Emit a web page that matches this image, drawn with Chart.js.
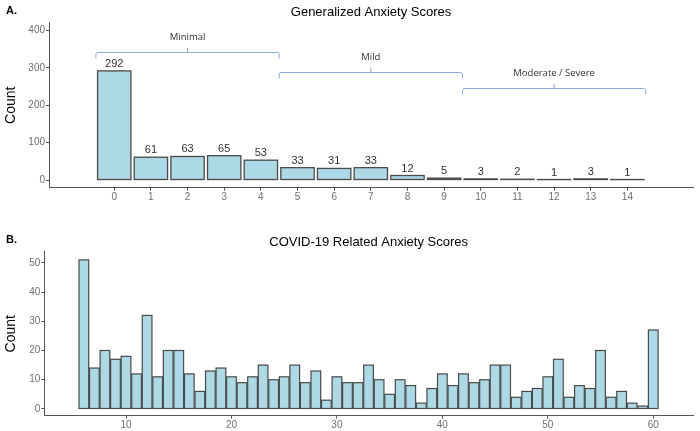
<!DOCTYPE html>
<html>
<head>
<meta charset="utf-8">
<script src="https://cdn.jsdelivr.net/npm/chart.js@4.4.0/dist/chart.umd.min.js"></script>
<style>
body{margin:0;background:#fff;width:700px;height:431px;overflow:hidden;position:relative}
canvas{position:absolute;left:0}
#gad{top:0}
#covid{top:215px}
</style>
</head>
<body>
<canvas id="gad" width="700" height="215"></canvas>
<canvas id="covid" width="700" height="216"></canvas>
<script>
// panel A - GAD-7 scores
var gadScores = [0,1,2,3,4,5,6,7,8,9,10,11,12,13,14];
var gadCounts = [292,61,63,65,53,33,31,33,12,5,3,2,1,3,1];
var gadYTicks = [0,100,200,300,400];

// severity brackets (score ranges and height in count units)
var severityLabels = ["Minimal","Mild","Moderate / Severe"];
var severityFrom = [-0.5,4.5,9.5];
var severityTo = [4.5,9.5,14.5];
var severityLevel = [342,290,247];

// panel B - COVID-19 related anxiety scores
var covidScores = [6,7,8,9,10,11,12,13,14,15,16,17,18,19,20,21,22,23,24,25,26,27,28,29,30,31,32,33,34,35,36,37,38,39,40,41,42,43,44,45,46,47,48,49,50,51,52,53,54,55,56,57,58,59,60];
var covidCounts = [51,14,20,17,18,12,32,11,20,20,12,6,13,14,11,9,11,15,10,11,15,9,13,3,11,9,9,15,10,5,10,8,2,7,12,8,12,9,10,15,15,4,6,7,11,17,4,8,7,20,4,6,2,1,27];
var covidXTicks = [10,20,30,40,50,60];
var covidYTicks = [0,10,20,30,40,50];

Chart.defaults.font.family = "'Liberation Sans', Arial, sans-serif";
Chart.defaults.animation = false;

var axisColor = '#555555';
var tickColor = '#707070';

function panelLetter(letter, y) {
  return {
    id: 'panelLetter',
    afterDraw: function(chart) {
      var ctx = chart.ctx;
      ctx.save();
      ctx.font = "bold 11px 'Liberation Sans', Arial, sans-serif";
      ctx.fillStyle = '#000';
      ctx.textBaseline = 'middle';
      ctx.fillText(letter, 6, y);
      ctx.restore();
    }
  };
}

// ggplot-style outline: stroke centred on the bar edge, so tiny bars still show a line
function barOutline(lw) {
  return {
    id: 'barOutline',
    afterDatasetsDraw: function(chart) {
      var ctx = chart.ctx;
      var meta = chart.getDatasetMeta(0);
      ctx.save();
      ctx.strokeStyle = '#4a4a4a';
      ctx.lineWidth = lw;
      meta.data.forEach(function(bar) {
        var p = bar.getProps(['x', 'y', 'base', 'width'], true);
        ctx.strokeRect(p.x - p.width / 2, p.y, p.width, p.base - p.y);
      });
      ctx.restore();
    }
  };
}

var barLabels = {
  id: 'barLabels',
  afterDatasetsDraw: function(chart) {
    var ctx = chart.ctx;
    var meta = chart.getDatasetMeta(0);
    ctx.save();
    ctx.font = "11px 'Liberation Sans', Arial, sans-serif";
    ctx.fillStyle = '#333';
    ctx.textAlign = 'center';
    ctx.textBaseline = 'middle';
    meta.data.forEach(function(bar, i) {
      ctx.fillText(gadCounts[i], bar.x, bar.y - 7);
    });
    ctx.restore();
  }
};

var brackets = {
  id: 'brackets',
  afterDatasetsDraw: function(chart) {
    var ctx = chart.ctx;
    var xs = chart.scales.x, ys = chart.scales.y;
    ctx.save();
    ctx.strokeStyle = '#8eaadb';
    ctx.lineWidth = 1;
    for (var i = 0; i < severityLabels.length; i++) {
      var x0 = xs.getPixelForValue(severityFrom[i]);
      var x1 = xs.getPixelForValue(severityTo[i]);
      var xm = (x0 + x1) / 2;
      var yy = Math.round(ys.getPixelForValue(severityLevel[i])) + 0.5;
      ctx.beginPath();
      ctx.moveTo(x0, yy + 6);
      ctx.lineTo(x0, yy + 2);
      ctx.quadraticCurveTo(x0, yy, x0 + 2, yy);
      ctx.lineTo(x1 - 2, yy);
      ctx.quadraticCurveTo(x1, yy, x1, yy + 2);
      ctx.lineTo(x1, yy + 6);
      ctx.moveTo(xm, yy);
      ctx.lineTo(xm, yy - 4.5);
      ctx.stroke();
      ctx.font = "9.5px 'Open Sans', sans-serif";
      ctx.fillStyle = '#333';
      ctx.textAlign = 'center';
      ctx.textBaseline = 'middle';
      ctx.fillText(severityLabels[i], xm, yy - 15);
    }
    ctx.restore();
  }
};

function setTicks(list) {
  return function(scale) {
    scale.ticks = list.map(function(v) { return {value: v}; });
  };
}

var gadChart = new Chart(document.getElementById('gad'), {
  type: 'bar',
  data: {
    datasets: [{
      data: gadScores.map(function(s, i) { return {x: s, y: gadCounts[i]}; }),
      backgroundColor: '#ADD8E6',
      borderWidth: 0,
      categoryPercentage: 1,
      barPercentage: 0.91
    }]
  },
  options: {
    responsive: false,
    layout: {padding: {left: 0, right: 7, top: 0, bottom: 0}},
    plugins: {
      legend: {display: false},
      tooltip: {enabled: false},
      title: {
        display: true,
        text: 'Generalized Anxiety Scores',
        fullSize: false,
        color: '#000',
        font: {size: 13, weight: 'normal'},
        padding: {top: 4.2, bottom: 2.9}
      }
    },
    scales: {
      x: {
        type: 'linear',
        offset: false,
        min: -1.78,
        max: 15.79,
        afterBuildTicks: setTicks(gadScores),
        afterFit: function(s) { s.height = 27.3; },
        grid: {offset: false, drawOnChartArea: false, tickLength: 3, color: axisColor},
        border: {color: axisColor, width: 1},
        ticks: {color: tickColor, font: {size: 10}, padding: 1, autoSkip: false, maxRotation: 0}
      },
      y: {
        min: -20.6,
        max: 421,
        afterBuildTicks: setTicks(gadYTicks),
        afterFit: function(s) { s.width = 49; },
        grid: {drawOnChartArea: false, tickLength: 3, color: axisColor},
        border: {color: axisColor, width: 1},
        ticks: {color: tickColor, font: {size: 10}, padding: 1},
        title: {display: true, text: 'Count', color: '#000', font: {size: 14}, padding: {top: 3, bottom: 0}}
      }
    }
  },
  plugins: [barOutline(1.3), barLabels, brackets, panelLetter('A.', 11)]
});

var covidChart = new Chart(document.getElementById('covid'), {
  type: 'bar',
  data: {
    datasets: [{
      data: covidScores.map(function(s, i) { return {x: s, y: covidCounts[i]}; }),
      backgroundColor: '#ADD8E6',
      borderWidth: 0,
      categoryPercentage: 1,
      barPercentage: 0.92
    }]
  },
  options: {
    responsive: false,
    layout: {padding: {left: 0, right: 7, top: 0, bottom: 0}},
    plugins: {
      legend: {display: false},
      tooltip: {enabled: false},
      title: {
        display: true,
        text: 'COVID-19 Related Anxiety Scores',
        fullSize: false,
        color: '#000',
        font: {size: 13, weight: 'normal'},
        padding: {top: 19.2, bottom: 1.9}
      }
    },
    scales: {
      x: {
        type: 'linear',
        offset: false,
        min: 2.25,
        max: 63.77,
        afterBuildTicks: setTicks(covidXTicks),
        afterFit: function(s) { s.height = 15.3; },
        grid: {offset: false, drawOnChartArea: false, tickLength: 3, color: axisColor},
        border: {color: axisColor, width: 1},
        ticks: {color: tickColor, font: {size: 10}, padding: 1, autoSkip: false, maxRotation: 0}
      },
      y: {
        min: -2.3,
        max: 53.8,
        afterBuildTicks: setTicks(covidYTicks),
        afterFit: function(s) { s.width = 44.3; },
        grid: {drawOnChartArea: false, tickLength: 3, color: axisColor},
        border: {color: axisColor, width: 1},
        ticks: {color: tickColor, font: {size: 10}, padding: 1},
        title: {display: true, text: 'Count', color: '#000', font: {size: 14}, padding: {top: 3, bottom: 0}}
      }
    }
  },
  plugins: [barOutline(1.2), panelLetter('B.', 24.5)]
});
</script>
</body>
</html>
